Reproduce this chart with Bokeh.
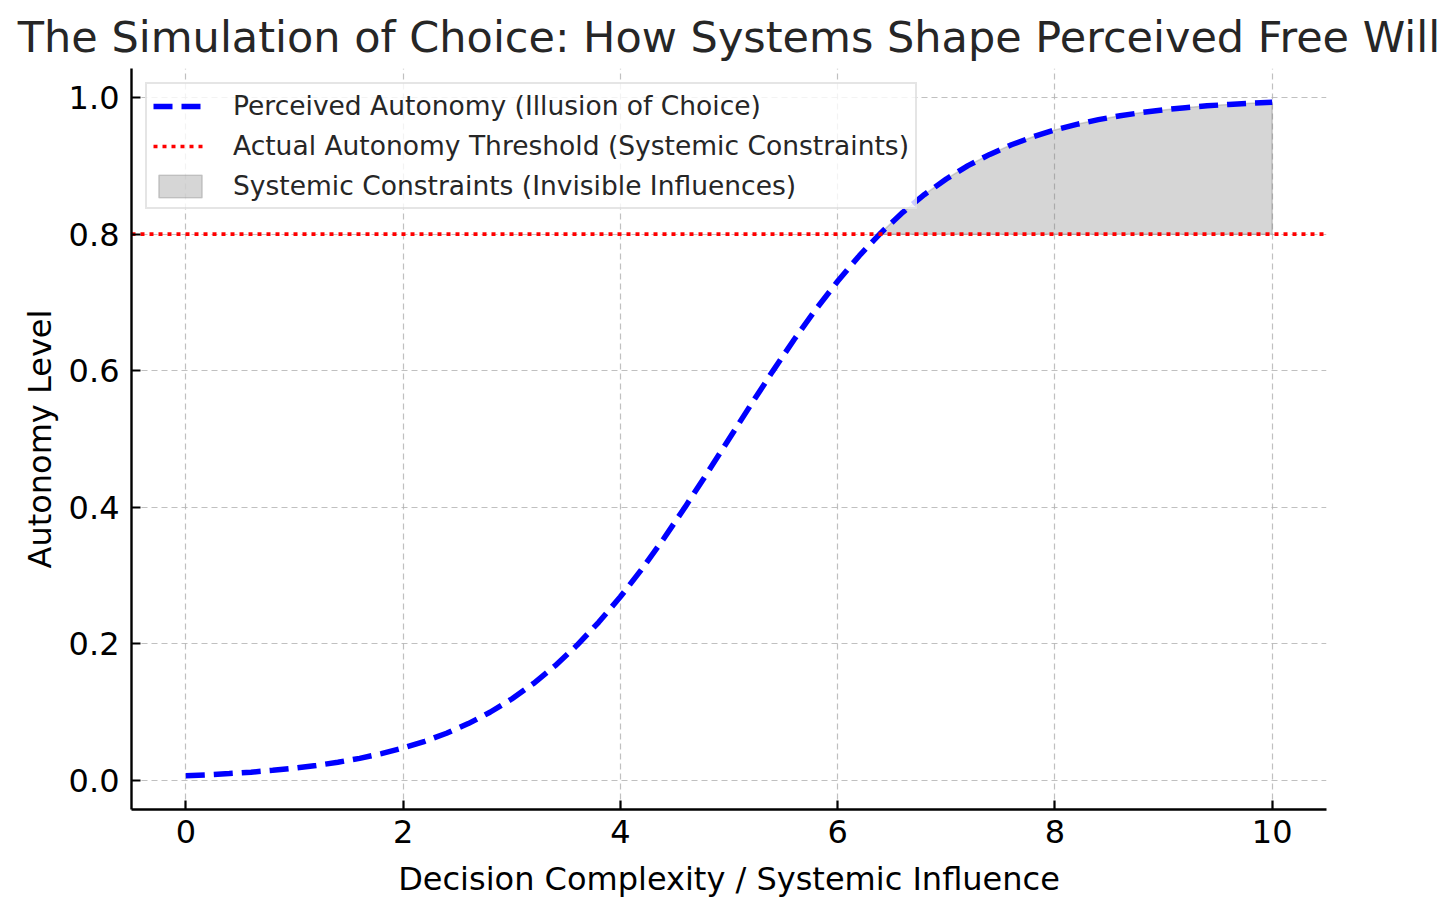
from bokeh.plotting import figure
from bokeh.models import Range1d, FixedTicker, Legend, LegendItem
from bokeh.embed import file_html
from bokeh.resources import INLINE

# ---- data ----
complexity = [0.0, 0.2, 0.4, 0.6, 0.8, 1.0, 1.2, 1.4, 1.6, 1.8,
              2.0, 2.2, 2.4, 2.6, 2.8, 3.0, 3.2, 3.4, 3.6, 3.8,
              4.0, 4.2, 4.4, 4.6, 4.8, 5.0, 5.2, 5.4, 5.6, 5.8,
              6.0, 6.2, 6.4, 6.6, 6.8, 7.0, 7.2, 7.4, 7.6, 7.8,
              8.0, 8.2, 8.4, 8.6, 8.8, 9.0, 9.2, 9.4, 9.6, 9.8, 10.0]
perceived = [0.0067, 0.0082, 0.0100, 0.0121, 0.0148, 0.0180, 0.0219, 0.0266, 0.0323, 0.0392,
             0.0474, 0.0573, 0.0691, 0.0832, 0.0998, 0.1192, 0.1419, 0.1680, 0.1978, 0.2315,
             0.2689, 0.3100, 0.3543, 0.4013, 0.4502, 0.5000, 0.5498, 0.5987, 0.6457, 0.6900,
             0.7311, 0.7685, 0.8022, 0.8320, 0.8581, 0.8808, 0.9003, 0.9168, 0.9309, 0.9427,
             0.9526, 0.9608, 0.9677, 0.9734, 0.9781, 0.9820, 0.9852, 0.9879, 0.9900, 0.9918, 0.9933]
threshold = 0.8
x_ticks = [0, 2, 4, 6, 8, 10]
y_ticks = [0.0, 0.2, 0.4, 0.6, 0.8, 1.0]
y_tick_labels = ["0.0", "0.2", "0.4", "0.6", "0.8", "1.0"]

title = "The Simulation of Choice: How Systems Shape Perceived Free Will"
x_label = "Decision Complexity / Systemic Influence"
y_label = "Autonomy Level"
labels = ["Perceived Autonomy (Illusion of Choice)",
          "Actual Autonomy Threshold (Systemic Constraints)",
          "Systemic Constraints (Invisible Influences)"]

FONT = "DejaVu Sans"

p = figure(frame_width=1195, frame_height=741,
           x_range=Range1d(-0.5, 10.5), y_range=Range1d(-0.0426, 1.0426),
           output_backend="svg", toolbar_location=None,
           min_border_left=131, min_border_right=124,
           min_border_top=68, min_border_bottom=90)
p.background_fill_color = "white"
p.border_fill_color = "white"
p.outline_line_color = None

p.title.text = title
p.title.align = "center"
p.title.text_font = FONT
p.title.text_font_size = "43px"
p.title.text_font_style = "normal"
p.title.text_color = "#262626"
p.title.standoff = 13

# fill region where perceived > threshold
fx = [x for x, y in zip(complexity, perceived) if y > threshold]
fy = [y for y in perceived if y > threshold]
poly_x = fx + fx[::-1]
poly_y = fy + [threshold] * len(fx)
r_fill = p.patch(poly_x, poly_y, fill_color="gray", fill_alpha=0.32,
                 line_color="gray", line_alpha=0.35, line_width=1.5)

r_curve = p.line(complexity, perceived, line_color="blue", line_width=5.5,
                 line_dash="19 9")
r_thr = p.line([-0.5, 10.5], [threshold, threshold], line_color="red",
               line_width=3.6, line_dash="4 5")

# axes
for ax in (p.xaxis, p.yaxis):
    ax.axis_line_width = 2.4
    ax.axis_line_color = "black"
    ax.major_tick_in = 9
    ax.major_tick_out = 0
    ax.major_tick_line_width = 2.2
    ax.minor_tick_line_color = None
    ax.major_label_text_font = FONT
    ax.major_label_text_font_size = "32px"
    ax.major_label_text_color = "black"
    ax.axis_label_text_font = FONT
    ax.axis_label_text_font_size = "32px"
    ax.axis_label_text_font_style = "normal"
    ax.axis_label_text_color = "black"

p.xaxis.ticker = FixedTicker(ticks=x_ticks)
p.yaxis.ticker = FixedTicker(ticks=y_ticks)
p.yaxis.major_label_overrides = {t: l for t, l in zip(y_ticks, y_tick_labels)}
p.xaxis.axis_label = x_label
p.yaxis.axis_label = y_label
p.xaxis.major_label_standoff = 10
p.yaxis.major_label_standoff = 12
p.xaxis.axis_label_standoff = 14
p.yaxis.axis_label_standoff = 7

for g in (p.xgrid, p.ygrid):
    g.grid_line_color = "#b0b0b0"
    g.grid_line_alpha = 0.8
    g.grid_line_width = 1.2
    g.grid_line_dash = "6 4"
p.xgrid.ticker = FixedTicker(ticks=x_ticks)
p.ygrid.ticker = FixedTicker(ticks=y_ticks)

legend = Legend(items=[LegendItem(label=labels[0], renderers=[r_curve]),
                       LegendItem(label=labels[1], renderers=[r_thr]),
                       LegendItem(label=labels[2], renderers=[r_fill])],
                location="top_left", margin=14, padding=6, spacing=9,
                glyph_width=54, glyph_height=28, label_height=28,
                label_standoff=26, label_text_font=FONT,
                label_text_font_size="26.5px", label_text_color="#262626",
                border_line_color="#cccccc", border_line_width=2,
                background_fill_color="white", background_fill_alpha=0.8)
p.add_layout(legend)

open("out.html", "w").write(file_html(p, INLINE))
